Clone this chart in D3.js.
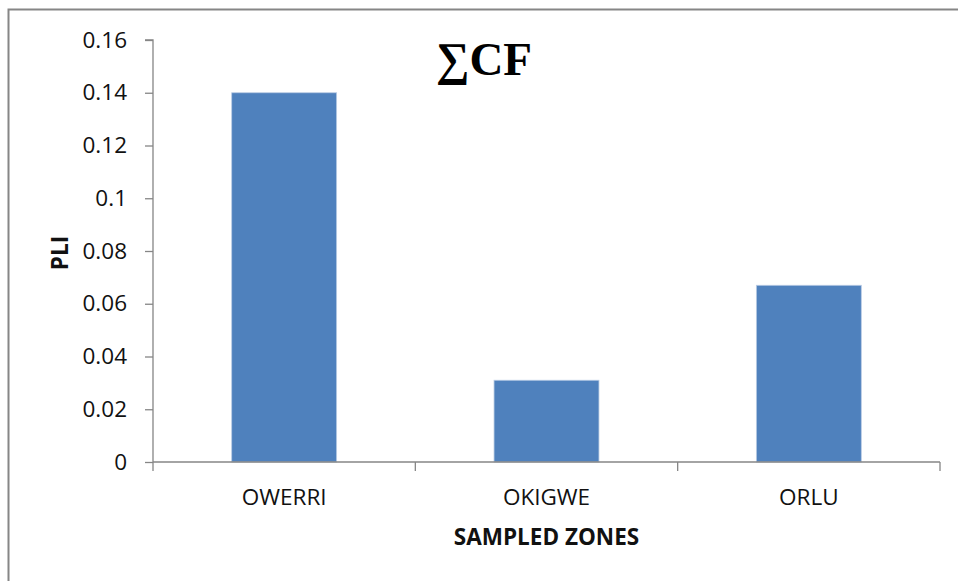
<!DOCTYPE html>
<html><head><meta charset="utf-8">
<script src="https://cdn.jsdelivr.net/npm/d3@7"></script>
<style>body{margin:0;background:#fff;} svg{display:block;}</style>
</head><body>
<script>
const categories = ["OWERRI", "OKIGWE", "ORLU"];
const values = [0.14, 0.031, 0.067];
const yTicks = [0, 0.02, 0.04, 0.06, 0.08, 0.1, 0.12, 0.14, 0.16];
const yTickLabels = ["0", "0.02", "0.04", "0.06", "0.08", "0.1", "0.12", "0.14", "0.16"];
const titleText = "∑CF";
const xTitle = "SAMPLED ZONES";
const yTitle = "PLI";

const W = 958, H = 581;
const svg = d3.select("body").append("svg").attr("width", W).attr("height", H);
// outer chart border (left/top visible)
svg.append("rect").attr("x", 8.5).attr("y", 9.5).attr("width", 1000).attr("height", 1000)
  .attr("fill", "#fff").attr("stroke", "#868686").attr("stroke-width", 2);

const pLeft = 153, pRight = 940, pTop = 40, pBottom = 462;
const x = d3.scaleBand().domain(categories).range([pLeft, pRight]).paddingInner(0.6).paddingOuter(0.3);
const xb = d3.scaleBand().domain(categories).range([pLeft, pRight]).padding(0);
const y = d3.scaleLinear().domain([0, 0.16]).range([pBottom, pTop]);

const font = "'Open Sans', sans-serif";
const fs = 22.5;
const gray = "#868686";

// y axis
const yAxis = d3.axisLeft(y).tickValues(yTicks).tickFormat((d, i) => yTickLabels[i]).tickSize(8).tickPadding(18);
const gy = svg.append("g").attr("transform", `translate(${pLeft},0)`).call(yAxis);
gy.select(".domain").attr("stroke", gray).attr("stroke-width", 1.3).attr("d", `M-8,${pTop}H0V${pBottom}`);
gy.selectAll(".tick line").attr("stroke", gray).attr("stroke-width", 1.3);
gy.selectAll(".tick text").attr("font-family", font).attr("font-size", fs).attr("fill", "#111");

// bars
svg.selectAll("rect.bar").data(values).enter().append("rect").attr("class", "bar")
  .attr("x", (d, i) => x(categories[i]))
  .attr("width", x.bandwidth())
  .attr("y", d => y(d))
  .attr("height", d => y(0) - y(d))
  .attr("fill", "#4F81BD")
  .attr("stroke", "#b9cbe4").attr("stroke-width", 0.8);

// x axis
const gx = svg.append("g").attr("transform", `translate(0,${pBottom})`);
gx.append("line").attr("x1", pLeft).attr("x2", pRight).attr("y1", 0).attr("y2", 0)
  .attr("stroke", gray).attr("stroke-width", 1.6);
const bounds = categories.map(c => xb(c)).concat([xb(categories[categories.length - 1]) + xb.bandwidth()]);
gx.selectAll("line.tk").data(bounds).enter().append("line").attr("class", "tk")
  .attr("x1", d => d).attr("x2", d => d).attr("y1", 0).attr("y2", 9)
  .attr("stroke", gray).attr("stroke-width", 1.3);
gx.selectAll("text.cat").data(categories).enter().append("text").attr("class", "cat")
  .attr("x", d => xb(d) + xb.bandwidth() / 2).attr("y", 43)
  .attr("text-anchor", "middle").attr("font-family", font).attr("font-size", fs).attr("fill", "#111")
  .text(d => d);

// axis titles
svg.append("text").attr("x", (pLeft + pRight) / 2).attr("y", 545).attr("text-anchor", "middle")
  .attr("font-family", font).attr("font-weight", "bold").attr("font-size", fs).attr("fill", "#111").text(xTitle);
svg.append("text").attr("transform", `translate(68,${(pTop + pBottom) / 2 + 2}) rotate(-90)`).attr("text-anchor", "middle")
  .attr("font-family", font).attr("font-weight", "bold").attr("font-size", fs).attr("fill", "#111").text(yTitle);

// chart title
svg.append("text").attr("x", 484).attr("y", 75).attr("text-anchor", "middle")
  .attr("font-family", "'Liberation Serif', 'Times New Roman', serif").attr("font-weight", "bold")
  .attr("font-size", 47).attr("fill", "#000").text(titleText);
</script>
</body></html>
